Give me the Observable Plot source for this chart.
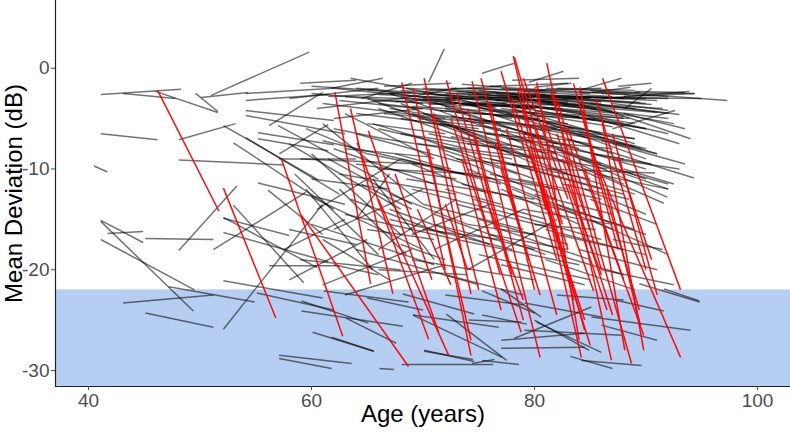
<!DOCTYPE html>
<html><head><meta charset="utf-8">
<script src="https://cdn.jsdelivr.net/npm/d3@7"></script>
<script src="https://cdn.jsdelivr.net/npm/@observablehq/plot@0.6"></script>
<style>
html,body{margin:0;padding:0;background:#fff;}
#chart svg{display:block;}
</style></head><body><div id="chart"></div>
<script>
// Axis ticks and labels
const xTicks = [40, 60, 80, 100];
const yTicks = [0, -10, -20, -30];
const xLabel = "Age (years)";
const yLabel = "Mean Deviation (dB)";
const blindLimit = -22; // shaded region below this MD
const xDomain = [37.04, 102.96];
const yDomain = [-31.59, 6.72];

// Each segment: [startAge, startMD, endAge, endMD]
const stableLeft = [
[41.1,-2.6,48.3,-2.1],[43.1,-2.5,47.8,-3.0],[46.0,-2.3,51.6,-4.4],[49.6,-2.5,51.6,-4.3],
[50.1,-2.9,54.3,-2.4],[51.0,-2.7,59.8,1.6],[41.1,-6.5,46.2,-7.1],[40.5,-9.7,41.7,-10.3],
[48.1,-9.1,57.5,-9.6],[48.1,-7.1,53.2,-5.5],[48.1,-18.1,53.3,-11.7],[45.1,-16.9,51.2,-17.0],
[41.7,-16.4,44.9,-16.2],[41.1,-15.1,44.9,-17.3],[41.1,-15.2,49.4,-24.1],[41.1,-17.0,49.5,-22.0],
[47.2,-21.7,54.9,-23.2],[43.1,-23.3,51.2,-22.5],[45.1,-24.3,51.2,-25.7],[52.1,-25.9,61.0,-13.5],
[51.2,-18.0,59.5,-12.3],[52.1,-14.8,60.5,-19.8],[52.1,-16.3,61.5,-19.2],[53.0,-13.6,59.3,-21.3],
[52.1,-21.1,61.0,-22.8],[55.1,-22.3,62.0,-24.0],[56.2,-19.6,62.5,-19.6],[57.1,-28.5,63.6,-29.3],
[57.1,-28.8,61.8,-29.8],[52.1,-5.7,60.5,-11.0],[53.0,-7.4,62.0,-14.0],[54.1,-6.9,62.5,-12.5],
[55.2,-6.4,62.0,-7.6],[55.2,-7.0,61.5,-8.2],[55.2,-11.4,63.0,-13.5],[56.1,-12.1,61.0,-16.5],
[52.1,-14.9,58.0,-16.6],[54.1,-2.5,62.0,-2.0],[54.1,-3.2,61.5,-2.6],[54.1,-4.2,62.0,-5.2],
[54.1,-4.7,63.0,-6.5],[56.2,-5.7,61.0,-2.4],[57.1,-8.5,61.5,-5.6],[57.1,-9.0,64.0,-9.0]
];

const stableUpper = [
[58.0,-3.0,66.0,-2.0],[59.0,-1.5,64.0,-1.2],[60.0,-2.5,70.0,-3.5],[60.5,-4.0,68.0,-3.0],
[61.0,-3.5,72.0,-5.0],[62.0,-2.0,67.5,-2.6],[62.0,-5.0,70.0,-4.0],[63.0,-2.8,73.0,-3.2],
[63.5,-1.0,71.0,-2.5],[64.0,-4.5,75.0,-6.0],[64.5,-3.0,69.0,-1.5],[65.0,-2.2,76.0,-3.0],
[65.0,-5.5,72.0,-6.5],[66.0,-3.5,74.0,-4.5],[66.5,-1.8,72.5,-1.5],[67.0,-2.5,78.0,-3.8],
[67.0,-4.0,75.5,-5.5],[68.0,-3.0,73.0,-2.0],[68.0,-5.0,79.0,-7.0],[68.5,-2.0,76.0,-2.5],
[69.0,-3.8,80.0,-4.5],[70.5,-1.4,71.9,1.9],[70.0,-2.8,78.0,-3.2],[70.0,-4.5,82.0,-6.0],
[70.5,-2.2,77.0,-1.8],[71.0,-3.3,79.5,-4.0],[71.5,-5.5,80.0,-7.5],[72.0,-2.5,84.0,-3.0],
[72.0,-3.8,77.5,-3.5],[72.5,-2.0,81.0,-2.2],[73.0,-4.2,83.0,-5.5],[73.0,-3.0,78.0,-4.5],
[73.5,-1.6,78.5,-2.0],[74.0,-2.7,86.0,-3.5],[74.0,-5.0,81.0,-6.8],[74.5,-3.5,82.5,-4.0],
[75.0,-2.2,80.0,-2.8],[75.0,-4.0,84.0,-4.8],[75.5,-3.0,87.0,-4.2],[76.0,-1.8,83.0,-1.5],
[76.0,-6.0,85.0,-7.5],[76.5,-2.5,81.5,-3.5],[77.0,-3.5,88.0,-5.0],[77.0,-2.0,85.0,-2.5],
[77.5,-4.5,86.0,-6.5],[78.0,-2.8,90.0,-3.0],[78.0,-1.2,84.0,-1.0],[78.5,-3.2,85.5,-4.0],
[79.0,-2.3,87.0,-2.8],[79.0,-5.0,89.0,-7.0],[79.5,-3.8,84.5,-4.4],[80.0,-2.6,91.0,-3.2],
[80.0,-4.2,88.0,-5.5],[80.5,-3.0,86.0,-3.3],[81.0,-2.0,89.5,-2.4],[81.0,-5.5,90.0,-8.0],
[81.5,-3.6,92.0,-5.0],[85.0,-2.2,97.3,-3.2],[82.0,-4.5,88.5,-5.0],[82.5,-3.0,90.5,-3.6],
[84.0,-3.5,91.5,-4.0],[84.0,-2.4,94.3,-2.5],[85.0,-4.0,92.5,-5.5],[85.5,-2.9,95.0,-3.0],
[86.0,-3.0,93.9,-2.3],[86.0,-5.0,92.0,-6.5],[87.0,-3.5,92.0,-4.2],[87.5,-1.8,90.5,-1.5],
[88.0,-4.5,93.5,-6.0],[88.1,-4.0,90.5,-2.0],[87.0,-6.0,92.6,-4.2],
[64.0,-2.0,74.0,-2.8],[65.5,-3.2,73.0,-3.6],[66.0,-2.6,77.0,-3.2],[67.5,-3.3,74.5,-3.0],
[68.0,-2.2,80.0,-2.9],[69.0,-3.0,76.5,-3.9],[70.0,-2.0,81.0,-2.6],[70.5,-3.6,79.0,-3.3],
[71.0,-2.6,83.0,-3.4],[71.5,-4.2,80.5,-5.0],[72.0,-3.0,81.0,-2.8],[73.0,-2.3,85.0,-3.0],
[73.5,-3.4,80.0,-4.0],[74.0,-2.0,82.0,-2.4],[74.5,-4.5,86.0,-5.0],[75.0,-2.8,84.5,-3.6],
[75.5,-3.8,82.0,-3.6],[76.0,-2.4,88.0,-3.0],[76.5,-3.2,84.0,-3.0],[77.0,-4.0,85.5,-5.2],
[77.5,-2.6,86.5,-2.9],[78.0,-3.6,87.5,-4.5],[78.5,-2.0,88.5,-2.6],[79.0,-3.0,85.0,-3.8],
[79.5,-4.5,87.0,-5.8],[80.0,-2.2,86.0,-2.0],[80.5,-3.4,89.0,-4.0],[81.0,-2.8,90.0,-3.5],
[81.5,-4.0,88.0,-4.8],[82.0,-2.0,89.0,-2.2],[82.5,-3.6,91.0,-4.4],[83.0,-2.8,92.0,-3.0],
[83.5,-4.8,90.0,-6.0],[84.0,-3.0,89.5,-3.4],[85.0,-3.5,93.0,-4.6],[86.0,-2.5,92.0,-2.8],
[66.5,-4.5,76.0,-5.5],[69.5,-5.0,77.0,-6.0],[72.5,-4.8,81.5,-6.2],[75.5,-5.2,83.5,-6.0],
[78.5,-5.5,86.5,-7.0],[80.5,-6.0,89.0,-7.8],[62.5,-3.2,69.5,-4.0],[60.0,-1.8,66.0,-2.2],
[61.5,-2.8,69.0,-2.4],[61.8,-2.0,66.4,-1.0],[75.3,-0.5,78.2,0.5],[79.5,-1.4,82.6,-0.3],
[80.0,-1.9,83.3,-1.5],[84.0,-2.2,87.8,-1.0],[85.1,-2.4,88.6,-1.9],[89.0,-2.3,93.5,-2.4],
[88.0,-2.8,94.4,-2.5]
];

const stableMiddle = [
[57.0,-5.7,66.0,-11.0],[58.0,-7.5,68.0,-14.0],[59.0,-9.0,70.0,-9.5],[59.5,-6.0,65.0,-8.5],
[60.0,-11.0,67.0,-12.0],[60.0,-12.8,70.0,-18.0],[61.0,-7.2,72.0,-10.0],[61.5,-9.0,69.0,-13.5],
[62.0,-6.0,66.5,-7.0],[62.5,-10.5,73.0,-12.5],[63.0,-8.0,70.5,-8.8],[63.5,-13.0,72.0,-16.5],
[64.0,-6.5,74.0,-9.5],[64.5,-11.5,69.0,-14.0],[65.0,-8.5,76.0,-11.0],[65.5,-5.5,70.0,-7.0],
[66.0,-10.0,75.0,-10.5],[66.5,-7.0,78.0,-9.0],[67.0,-12.5,74.0,-15.5],[67.5,-8.5,72.5,-10.0],
[68.0,-6.5,77.0,-8.0],[68.5,-11.0,80.0,-13.0],[69.0,-9.5,76.0,-12.5],[69.5,-7.5,81.0,-9.0],
[70.0,-13.5,79.0,-16.0],[70.5,-6.5,75.0,-7.5],[71.0,-10.0,82.0,-12.0],[71.5,-8.0,78.5,-10.5],
[72.0,-12.0,77.0,-13.5],[72.5,-6.8,83.0,-8.5],[73.0,-9.0,80.0,-9.8],[73.5,-11.5,84.0,-14.5],
[74.0,-7.5,82.0,-8.5],[74.5,-13.0,81.0,-15.0],[75.0,-8.8,85.0,-11.0],[75.5,-6.5,80.5,-7.0],
[76.0,-10.5,86.0,-13.0],[76.5,-8.0,83.5,-9.5],[77.0,-12.0,84.0,-15.5],[77.5,-7.0,87.0,-8.0],
[78.0,-9.5,88.0,-12.5],[78.5,-11.0,83.0,-12.0],[79.0,-6.5,90.0,-10.0],[79.5,-8.5,86.5,-10.0],
[80.0,-12.5,87.0,-14.5],[80.5,-7.5,88.0,-9.0],[81.0,-10.0,90.8,-10.4],[81.5,-6.0,89.0,-7.0],
[82.0,-8.0,91.9,-12.8],[82.5,-11.5,88.5,-13.0],[83.0,-7.0,94.3,-10.9],[83.5,-9.5,91.6,-13.4],
[84.0,-6.5,89.6,-8.0],[84.5,-12.0,90.0,-14.5],[85.0,-8.5,90.5,-9.5],[85.5,-10.5,92.0,-12.0],
[86.0,-7.2,91.0,-8.5],[87.0,-9.0,93.0,-10.0],
[60.5,-14.0,68.0,-9.0],[62.0,-16.0,70.0,-12.0],[64.0,-15.0,67.0,-10.5],[66.0,-18.0,73.0,-13.0],
[69.0,-16.5,76.0,-13.5],[71.0,-18.0,79.0,-14.0],[74.0,-20.0,82.0,-15.0]
];

const stableDense = [
[65.0,-3.0,75.0,-7.0],[66.0,-4.0,78.0,-8.5],[67.0,-2.5,76.0,-6.0],[68.0,-3.5,80.0,-9.0],
[69.0,-4.5,79.0,-8.0],[70.0,-3.0,82.0,-7.5],[71.0,-5.0,80.0,-9.5],[72.0,-4.0,84.0,-8.0],
[73.0,-6.0,83.0,-10.5],[74.0,-3.5,85.0,-7.0],[75.0,-5.5,86.0,-9.5],[76.0,-4.5,87.0,-8.5],
[77.0,-6.5,86.0,-11.0],[78.0,-4.0,89.0,-7.5],[79.0,-7.0,88.0,-11.5],[80.0,-5.0,90.0,-9.0],
[81.0,-7.5,90.0,-11.0],[82.0,-5.5,91.0,-8.5],[83.0,-8.5,92.0,-12.0],[84.0,-4.5,93.0,-7.5],
[70.0,-7.0,80.0,-11.0],[72.0,-8.5,82.0,-13.0],[74.0,-10.0,83.0,-14.0],[76.0,-9.0,86.0,-12.0],
[78.0,-12.0,87.0,-16.0],[80.0,-9.5,89.0,-12.5],[82.0,-13.5,90.0,-16.5],[84.0,-9.0,92.0,-11.5],
[68.0,-9.0,77.0,-11.5],[66.0,-6.0,74.0,-8.0],[64.0,-9.5,73.0,-11.0],[62.0,-8.0,71.0,-11.5],
[67.0,-14.0,76.0,-17.5],[69.0,-12.0,78.0,-14.5],[71.0,-15.5,80.0,-18.0],[73.0,-13.5,82.0,-16.0],
[75.0,-15.0,83.0,-17.5],[77.0,-16.0,85.0,-19.0],[79.0,-14.0,87.0,-15.5],[81.0,-16.0,88.0,-18.0],
[60.0,-8.5,68.0,-16.5],[61.0,-5.5,70.0,-13.5],[63.0,-4.5,71.0,-9.0],[58.5,-10.5,66.0,-18.5],
[59.5,-12.0,65.5,-20.0],[62.5,-12.0,68.5,-18.5],[65.5,-11.0,71.0,-19.0],[57.5,-18.0,63.0,-15.0],
[58.0,-21.0,65.0,-17.0],[61.0,-21.5,69.0,-18.0],[63.0,-22.5,72.0,-19.5],
[86.0,-4.0,94.0,-7.0],[87.0,-7.5,93.5,-9.5],[88.0,-10.0,92.5,-11.5],[85.0,-13.0,91.0,-15.5],
[72.0,-3.2,82.0,-5.5],[74.0,-2.4,86.0,-4.0],[76.0,-3.0,89.0,-5.5],[78.0,-3.8,90.0,-6.0],
[80.0,-2.8,92.0,-4.5],[70.0,-2.4,80.0,-4.0],[68.0,-2.8,78.0,-5.0],[66.0,-2.2,75.0,-3.8]
];

const stableLower = [
[58.0,-16.0,64.0,-17.5],[59.0,-19.0,68.0,-20.0],[60.0,-15.5,71.0,-19.5],[61.0,-17.0,67.0,-21.0],
[62.0,-19.5,66.0,-20.5],[63.0,-14.5,73.0,-17.0],[64.0,-18.0,75.0,-21.5],[65.0,-16.0,71.0,-17.0],
[66.0,-20.0,74.0,-20.5],[67.0,-15.0,78.0,-18.0],[68.0,-17.5,72.0,-19.0],[69.0,-19.0,80.0,-21.0],
[70.0,-16.0,77.0,-17.0],[71.0,-14.5,81.0,-18.5],[72.0,-20.5,79.0,-22.5],[73.0,-17.0,84.0,-19.5],
[74.0,-15.5,80.0,-16.5],[75.0,-18.5,85.0,-21.0],[76.0,-16.5,83.0,-18.0],[77.0,-19.5,84.5,-21.5],
[78.0,-14.5,86.0,-17.0],[79.0,-17.5,88.0,-20.5],[80.0,-15.5,85.5,-16.0],[81.0,-19.0,89.0,-22.0],
[82.0,-16.5,90.0,-18.5],[83.0,-14.0,89.0,-16.0],[84.0,-18.0,91.0,-20.0],[85.0,-15.0,92.0,-18.5],
[86.0,-20.0,92.5,-21.5],[87.0,-17.0,91.5,-18.0]
];

const stableBlind = [
[59.1,-23.1,65.1,-25.3],[59.1,-24.1,68.2,-25.6],[60.1,-26.2,65.6,-28.1],[63.1,-24.8,67.6,-27.3],
[66.1,-29.8,67.4,-29.9],[68.1,-29.4,76.3,-29.4],[70.1,-28.1,74.5,-28.9],[74.4,-29.3,76.4,-28.9],
[69.1,-24.5,77.1,-28.7],[72.1,-24.4,77.5,-29.0],[74.1,-25.0,78.8,-25.2],[61.1,-22.1,68.7,-23.2],
[68.2,-22.4,74.6,-24.4],[69.1,-24.5,76.8,-25.7],[75.3,-22.1,80.0,-24.3],[77.0,-21.9,80.6,-24.7],
[75.3,-24.5,79.3,-25.4],[80.0,-25.0,84.9,-28.0],[79.1,-26.0,87.8,-26.5],[77.0,-27.0,84.5,-26.3],
[77.0,-27.8,84.5,-27.7],[78.2,-26.8,85.1,-23.7],[85.1,-24.7,94.0,-26.0],[83.2,-28.6,87.0,-29.8],
[84.2,-29.0,89.6,-29.5],[91.6,-21.9,94.8,-23.1],[87.2,-23.0,91.6,-24.1],[75.3,-29.0,78.6,-29.4],
[79.1,-23.3,86.0,-24.7],[80.2,-25.2,86.0,-28.2],[70.1,-28.0,74.6,-29.1],[61.8,-26.7,65.6,-28.1],
[89.4,-21.4,94.8,-23.2],[72.0,-22.5,79.0,-23.5],[65.0,-22.8,70.0,-24.0],[82.0,-22.5,88.0,-23.0],
[86.0,-25.5,91.0,-27.0]
];

const progressing = [
[46.2,-2.2,51.7,-14.2],[52.1,-11.9,56.8,-24.8],[57.3,-9.0,62.8,-26.6],[59.1,-14.6,68.7,-29.6],
[62.1,-2.4,65.3,-21.4],[63.5,-4.0,67.3,-22.4],[64.1,-7.4,70.5,-26.9],[65.1,-6.2,71.4,-26.2],
[66.0,-13.0,72.3,-28.5],[68.1,-1.4,72.0,-20.0],[69.1,-2.0,74.3,-27.0],[70.1,-1.0,74.3,-22.4],
[70.5,-8.0,74.3,-28.5],[67.5,-10.5,70.8,-21.0],[72.1,-1.2,76.9,-20.4],[72.5,-5.0,78.8,-26.2],
[74.4,-1.3,80.5,-28.7],[75.2,-1.0,79.0,-17.0],[73.5,-9.0,77.0,-24.0],[77.0,-0.3,82.0,-19.0],
[78.2,1.1,82.5,-15.5],[78.1,1.2,84.2,-28.7],[76.0,-3.5,80.0,-22.0],[80.2,-1.4,84.0,-27.0],
[81.1,0.5,86.9,-29.0],[79.0,-4.0,83.0,-18.0],[77.5,-6.0,82.0,-24.5],[84.1,-1.9,88.1,-28.0],
[86.1,-1.0,93.1,-22.0],[86.0,-4.9,89.8,-28.0],[82.0,-3.0,88.7,-29.3],[83.0,-6.0,89.8,-26.5],
[85.0,-8.0,93.1,-28.7],[84.0,-3.5,89.4,-24.0],[80.0,-5.5,85.3,-22.1],[81.5,-2.5,86.0,-20.0],
[79.5,-8.0,84.5,-25.0],[82.5,-9.0,87.0,-24.5],[78.5,-2.0,81.0,-14.0],[76.5,-7.5,79.5,-19.0],
[74.0,-4.0,78.0,-20.5],[75.5,-11.0,79.0,-25.0],[71.0,-4.5,75.0,-22.0],[73.0,-2.5,76.5,-16.0],
[80.5,-10.5,83.5,-23.0],[83.5,-1.5,87.5,-18.0],[85.5,-3.0,90.0,-20.0],[87.0,-6.5,91.0,-22.5],
[81.0,-12.0,84.5,-26.0],[77.0,-10.0,80.5,-22.5],[79.0,-1.0,83.0,-13.0],[82.0,-6.5,85.0,-16.0],
[84.5,-10.0,88.0,-21.0],[86.5,-12.0,89.5,-25.5],[76.0,-14.0,79.0,-23.0],[69.5,-14.0,72.5,-21.5],
[78.0,-3.0,85.0,-27.5],[80.0,-2.0,86.5,-24.0],[83.0,-11.5,86.0,-20.5],[74.5,-6.5,76.0,-13.0],
[87.5,-9.0,90.5,-19.0],[72.0,-13.5,74.0,-20.0]
];

const toRows = arr => arr.map(([a1, m1, a2, m2]) => ({a1, m1, a2, m2}));
const stableRows = toRows([...stableLeft, ...stableUpper, ...stableMiddle, ...stableDense, ...stableLower, ...stableBlind]);
const progRows = toRows(progressing);

const font = "'Liberation Sans', Arial, sans-serif";

const chart = Plot.plot({
  width: 790, height: 434,
  marginLeft: 55, marginRight: 0, marginTop: 0, marginBottom: 48,
  style: {fontFamily: font, background: "white", overflow: "visible"},
  x: {domain: xDomain},
  y: {domain: yDomain},
  marks: [
    Plot.rect([blindLimit], {x1: xDomain[0], x2: xDomain[1], y1: yDomain[0], y2: d => d, fill: "#b7cef3"}),
    Plot.link(stableRows, {x1: "a1", y1: "m1", x2: "a2", y2: "m2", stroke: "black", strokeOpacity: 0.55, strokeWidth: 1.5}),
    Plot.link(progRows, {x1: "a1", y1: "m1", x2: "a2", y2: "m2", stroke: "#ff0000", strokeOpacity: 0.95, strokeWidth: 1.5}),
    Plot.ruleX([xDomain[0]], {stroke: "#222", strokeWidth: 1.2}),
    Plot.ruleY([yDomain[0]], {stroke: "#222", strokeWidth: 1.2}),
    Plot.axisX({ticks: xTicks, tickFormat: d => String(d), tickSize: 4, tickPadding: 3, fontSize: 19, color: "#4d4d4d", label: null}),
    Plot.axisY({ticks: yTicks, tickFormat: d => String(d), tickSize: 4, tickPadding: 2, fontSize: 19, color: "#4d4d4d", label: null}),
    Plot.text([xLabel], {text: d => d, frameAnchor: "bottom", dy: 35, fontSize: 24, fill: "black"}),
    Plot.text([yLabel], {text: d => d, frameAnchor: "left", textAnchor: "middle", dx: -41, rotate: -90, fontSize: 24, fill: "black"})
  ]
});
document.getElementById("chart").appendChild(chart);
</script>
</body></html>
